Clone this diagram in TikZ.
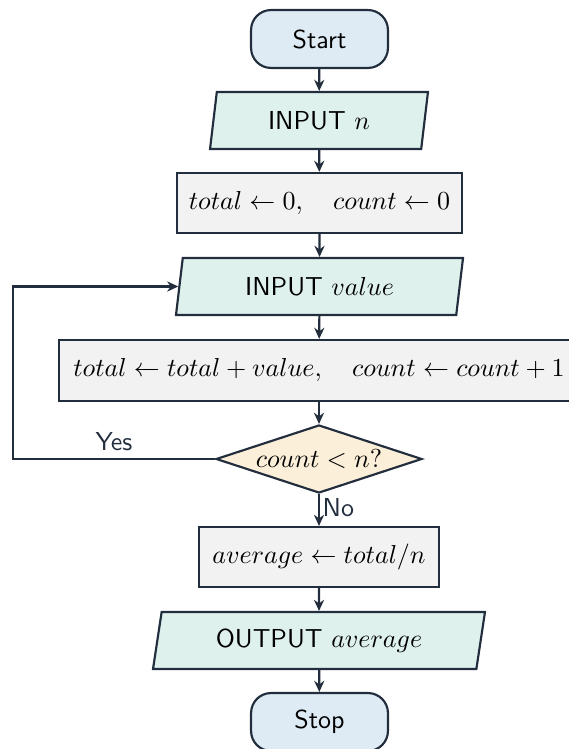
\documentclass[tikz,border=0pt]{standalone}
\usetikzlibrary{shapes.geometric,arrows.meta}
\definecolor{lineC}{HTML}{222D3D}
\definecolor{termC}{HTML}{DEEBF4}
\definecolor{ioC}{HTML}{DFF1ED}
\definecolor{procC}{HTML}{F2F2F2}
\definecolor{decC}{HTML}{FBEFD9}
\begin{document}
\begin{tikzpicture}[x=0.385pt,y=-0.385pt, font=\sffamily,
  base/.style={draw=lineC, line width=0.83pt, text=black, inner sep=0pt},
  term/.style={base, rectangle, rounded corners=7.7pt, fill=termC, minimum width=52.7pt, minimum height=22.3pt},
  io/.style={base, trapezium, trapezium left angle=70, trapezium right angle=110, trapezium stretches body, fill=ioC, minimum height=21.9pt},
  proc/.style={base, rectangle, fill=procC, minimum height=23.1pt},
  dec/.style={base, diamond, aspect=3, fill=decC, minimum width=79.3pt, minimum height=26.2pt},
  arr/.style={draw=lineC, line width=0.83pt, -{Stealth[length=4.3pt,width=3.9pt]}},
  lab/.style={text=lineC, inner sep=1pt}]
\useasboundingbox (0,0) rectangle (569,749);
\node[term] (start) at (319.5,39) {Start};
\node[io, minimum width=83.9pt] (in1) at (319,120.5) {INPUT $n$};
\node[proc, minimum width=109.7pt] (init) at (319.5,203) {$total \leftarrow 0,\quad count \leftarrow 0$};
\node[io, minimum width=110.5pt] (in2) at (319.5,286.5) {INPUT $value$};
\node[proc, minimum width=200.2pt, minimum height=23.5pt] (upd) at (319,370.5) {$total \leftarrow total + value,\quad count \leftarrow count + 1$};
\node[dec] (dec) at (319,459) {$count < n?$};
\node[proc, minimum width=92.4pt] (avg) at (319,557) {$average \leftarrow total/n$};
\node[io, minimum width=127.8pt] (out) at (319,640.5) {OUTPUT $average$};
\node[term] (stop) at (319.5,722) {Stop};
\coordinate (lp) at (13,459);
\draw[arr] (start) -- (in1);
\draw[arr] (in1) -- (init);
\draw[arr] (init) -- (in2);
\draw[arr] (in2) -- (upd);
\draw[arr] (upd) -- (dec);
\draw[arr] (dec) -- node[lab, right, pos=0.42] {No} (avg);
\draw[arr] (avg) -- (out);
\draw[arr] (out) -- (stop);
\draw[arr] (dec.west) -- (lp) |- (in2.west);
\node[lab] (yes) at (114,442) {Yes};
\end{tikzpicture}
\end{document}
